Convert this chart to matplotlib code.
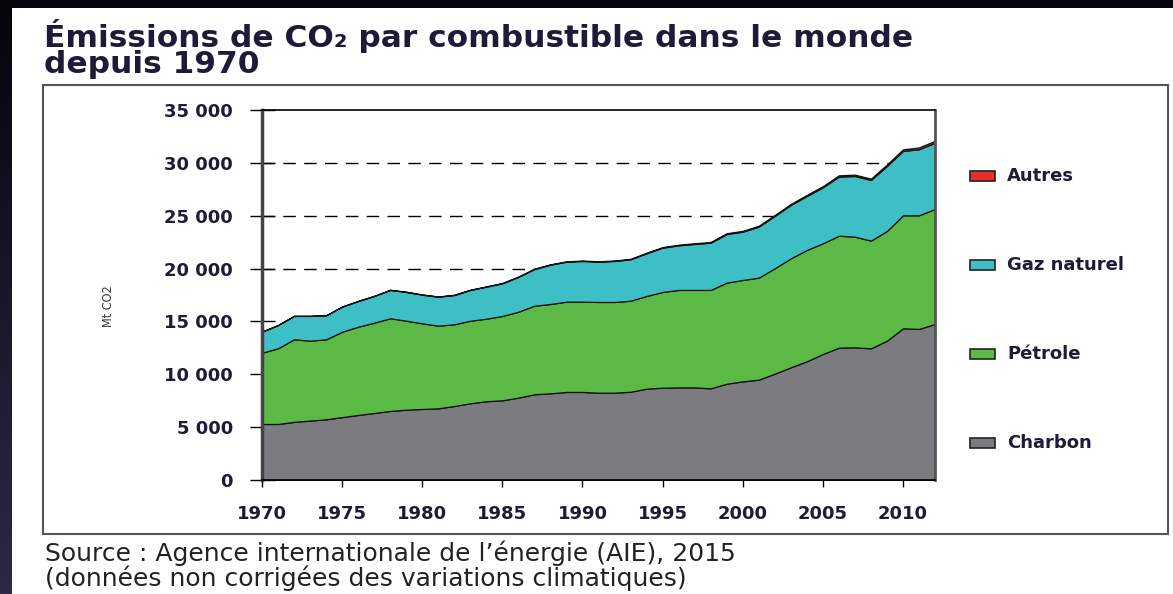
import numpy as np
import matplotlib
matplotlib.use("Agg")
import matplotlib.pyplot as plt
from matplotlib.patches import Rectangle

# CO2 emissions by fuel (Mt CO2)
years = list(range(1970, 2013))
charbon = [5300, 5300, 5500, 5620, 5740, 5950, 6150, 6340, 6530, 6650,
           6720, 6780, 7000, 7260, 7450, 7540, 7790, 8110, 8200, 8330,
           8330, 8260, 8260, 8350, 8640, 8730, 8760, 8760, 8670, 9110,
           9330, 9490, 10060, 10660, 11230, 11920, 12520, 12550, 12460, 13180,
           14350, 14290, 14760]
petrole = [6740, 7160, 7810, 7560, 7570, 8080, 8350, 8540, 8770, 8420,
           8100, 7820, 7730, 7810, 7810, 7980, 8130, 8380, 8450, 8540,
           8540, 8580, 8580, 8610, 8770, 9060, 9220, 9220, 9310, 9560,
           9590, 9650, 9970, 10310, 10530, 10470, 10590, 10470, 10180, 10380,
           10690, 10750, 10880]
gaz = [1990, 2200, 2210, 2340, 2270, 2370, 2430, 2530, 2680, 2720,
       2710, 2740, 2770, 2910, 3030, 3090, 3300, 3470, 3720, 3780,
       3850, 3810, 3880, 3920, 4040, 4190, 4220, 4350, 4470, 4600,
       4570, 4830, 4950, 5050, 5110, 5300, 5590, 5740, 5740, 6150,
       6090, 6250, 6270]
autres = [10, 10, 10, 10, 10, 10, 15, 15, 15, 20,
          20, 20, 25, 25, 25, 30, 30, 30, 35, 35,
          40, 40, 45, 45, 50, 55, 60, 65, 70, 75,
          80, 85, 90, 95, 100, 110, 120, 125, 130, 140,
          150, 170, 180]
labels = ["Charbon", "Pétrole", "Gaz naturel", "Autres"]
colors = ["#7b7b80", "#5cb946", "#3dbfc5", "#e8302e"]
yticks = [0, 5000, 10000, 15000, 20000, 25000, 30000, 35000]
ytick_labels = ["0", "5 000", "10 000", "15 000", "20 000", "25 000", "30 000", "35 000"]
xticks = [1970, 1975, 1980, 1985, 1990, 1995, 2000, 2005, 2010]

W, H = 1173, 594
fig = plt.figure(figsize=(W / 100, H / 100), dpi=100)
plt.rcParams['font.family'] = ['DejaVu Sans']

# dark background gradient
bg = fig.add_axes([0, 0, 1, 1], zorder=-10)
grad = np.linspace(0, 1, 100).reshape(-1, 1)
bg.imshow(grad, aspect='auto', cmap=matplotlib.colors.LinearSegmentedColormap.from_list(
    "bg", ["#05050c", "#2a2a48"]), extent=[0, 1, 0, 1], origin='upper')
bg.set_axis_off()

def px(x, y):
    return x / W, 1 - y / H

# white panel
fig.patches.append(Rectangle(px(12, 594), 1, (594 - 8) / H, transform=fig.transFigure,
                             facecolor="white", edgecolor="none", zorder=-5))
# inner frame
fig.patches.append(Rectangle(px(43, 534), (1168 - 43) / W, (534 - 85) / H,
                             transform=fig.transFigure, facecolor="none",
                             edgecolor="#555555", linewidth=1.5, zorder=-4))

navy = "#1c1c38"
fig.text(*px(44, 19), "Émissions de CO₂ par combustible dans le monde\ndepuis 1970",
         fontsize=22.5, fontweight='bold', color=navy, va='top', linespacing=0.86)
fig.text(*px(45, 540), "Source : Agence internationale de l’énergie (AIE), 2015\n"
         "(données non corrigées des variations climatiques)",
         fontsize=18, color="#222222", va='top', linespacing=0.98)

ax = fig.add_axes([262 / W, (594 - 480) / H, (935 - 262) / W, 370 / H])
for v in [20000, 25000, 30000]:
    ax.axhline(v, color="black", linewidth=1, linestyle=(0, (9, 6)), zorder=1)
polys = ax.stackplot(years, charbon, petrole, gaz, autres, colors=colors,
                     edgecolor="#111111", linewidth=0.9, zorder=2)
ax.set_xlim(1970, 2012)
ax.set_ylim(0, 35000)
ax.set_yticks(yticks)
ax.set_yticklabels(ytick_labels)
ax.set_xticks(xticks)
ax.tick_params(axis='y', direction='inout', length=18, width=1, pad=12,
               labelsize=13, labelcolor=navy)
ax.tick_params(axis='x', direction='out', length=5, width=1, pad=13,
               labelsize=13, labelcolor=navy)
for lab in ax.get_xticklabels() + ax.get_yticklabels():
    lab.set_fontweight('bold')
ax.spines['left'].set_linewidth(2.5)
ax.spines['left'].set_color("#444444")
ax.spines['right'].set_linewidth(2)
ax.spines['right'].set_color("#555555")
ax.spines['top'].set_linewidth(1.2)
ax.spines['bottom'].set_linewidth(1.2)
for s in ['left', 'right', 'top', 'bottom']:
    ax.spines[s].set_zorder(5)
ax.set_ylabel("Mt CO2", fontsize=9, color="#333333", fontstretch='condensed')
ax.yaxis.set_label_coords(-0.218, 0.47)

# legend, top to bottom
leg_y = [176, 265, 354, 443]
for name, col, y in zip(labels[::-1], colors[::-1], leg_y):
    fig.patches.append(Rectangle(px(970, y + 5), 25 / W, 10 / H, transform=fig.transFigure,
                                 facecolor=col, edgecolor="#222222", linewidth=1.2))
    fig.text(*px(1007, y), name, fontsize=13, fontweight='bold',
             color=navy, va='center')

fig.savefig("out.png", dpi=100)
